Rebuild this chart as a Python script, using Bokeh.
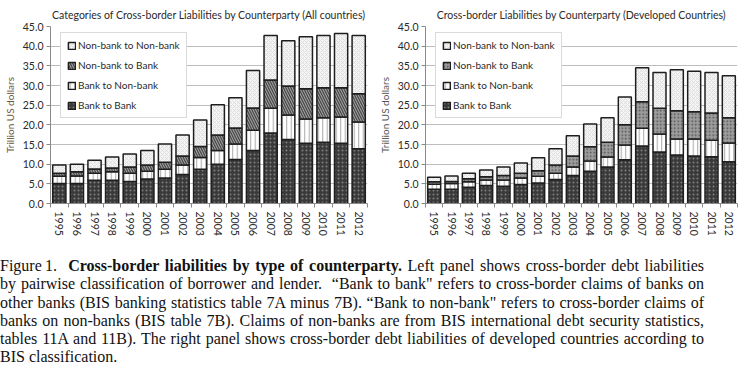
import math
import numpy as np
from bokeh.plotting import figure
from bokeh.models import (FixedTicker, Legend, LegendItem, Div, Range1d,
                          NumeralTickFormatter)
from bokeh.layouts import column, row
from bokeh.embed import file_html
from bokeh.resources import INLINE

years = [str(y) for y in range(1995, 2013)]
series_names = ["Bank to Bank", "Bank to Non-bank", "Non-bank to Bank", "Non-bank to Non-bank"]

# Left panel: All countries (trillion US dollars, per category)
all_b2b = [5.1, 5.1, 5.9, 5.9, 5.6, 6.2, 6.5, 7.4, 8.7, 10.0, 11.2, 13.5, 17.9, 16.3, 15.3, 15.6, 15.3, 13.9]
all_b2nb = [1.8, 1.9, 1.8, 2.2, 2.1, 2.0, 2.2, 2.4, 3.0, 3.5, 3.9, 5.1, 6.3, 6.2, 6.2, 6.2, 6.7, 6.8]
all_nb2b = [0.8, 1.1, 1.1, 0.9, 1.6, 1.6, 1.8, 2.3, 2.8, 3.9, 4.1, 5.7, 7.2, 7.4, 7.7, 7.6, 7.4, 7.2]
all_nb2nb = [2.1, 1.9, 2.2, 2.8, 3.3, 3.7, 4.6, 5.3, 6.7, 7.7, 7.7, 9.5, 11.3, 11.5, 13.2, 13.3, 13.8, 14.8]

# Right panel: Developed countries
dev_b2b = [3.6, 3.6, 4.1, 4.6, 4.4, 4.8, 5.2, 6.1, 7.1, 8.2, 9.3, 11.1, 14.6, 13.1, 12.3, 12.1, 11.9, 10.6]
dev_b2nb = [1.3, 1.5, 1.4, 1.4, 1.6, 1.7, 1.7, 1.6, 2.2, 2.6, 2.5, 3.8, 4.5, 4.6, 4.1, 4.3, 4.2, 4.8]
dev_nb2b = [0.6, 0.5, 0.8, 0.8, 1.1, 1.2, 1.4, 2.1, 2.8, 3.6, 3.8, 5.1, 6.8, 6.5, 7.2, 6.9, 6.9, 6.4]
dev_nb2nb = [1.2, 1.4, 1.4, 1.7, 2.2, 2.6, 3.3, 4.1, 5.1, 5.8, 6.2, 7.1, 8.6, 9.1, 10.4, 10.3, 10.3, 10.7]

y_ticks = [0, 5, 10, 15, 20, 25, 30, 35, 40, 45]

caption_lines = [
    'Figure\u20091.&nbsp; <b>Cross-border liabilities by type of counterparty.</b> Left panel shows cross-border debt liabilities',
    'by pairwise classification of borrower and lender.&nbsp; \u201cBank to bank" refers to cross-border claims of banks on',
    'other banks (BIS banking statistics table 7A minus 7B). \u201cBank to non-bank" refers to cross-border claims of',
    'banks on non-banks (BIS table 7B). Claims of non-banks are from BIS international debt security statistics,',
    'tables 11A and 11B). The right panel shows cross-border debt liabilities of developed countries according to',
    'BIS classification.',
]

FONT = "Lato"
TXT = "#2a2a2a"

def make_panel(title, vals, nb2b_style, ylabel_color, frame_w, border_left, border_right):
    n = len(years)
    centers = list(np.arange(n) + 0.5)
    bounds = list(np.arange(n + 1).astype(float))
    p = figure(frame_width=frame_w, frame_height=177, output_backend="svg",
               toolbar_location=None, x_range=Range1d(0, n), y_range=Range1d(0, 45),
               min_border_left=border_left, min_border_right=border_right,
               min_border_top=0, min_border_bottom=0)
    p.title.text = title
    p.title.align = "center"
    p.title.text_font = FONT
    p.title.text_font_size = "10.5px"
    p.title.text_font_style = "normal"
    p.title.text_color = TXT
    p.title.standoff = 12
    p.title.offset = 0
    p.outline_line_color = None
    p.background_fill_color = "white"
    p.border_fill_color = "white"

    styles = [
        dict(fill_color="#3a3a3a", hatch_pattern="dot", hatch_color="#808080", hatch_scale=4, hatch_weight=1),
        dict(fill_color="white", hatch_pattern="vertical_line", hatch_color="#a8a8a8", hatch_scale=4.5, hatch_weight=1),
        nb2b_style,
        dict(fill_color="#f5f5f5", hatch_pattern="diagonal_cross", hatch_color="#d6d6d6", hatch_scale=4, hatch_weight=0.7),
    ]
    bottom = np.zeros(n)
    renderers = []
    for v, st in zip(vals, styles):
        top = bottom + np.array(v)
        r = p.vbar(x=centers, width=0.75, bottom=list(bottom), top=list(top),
                   line_color="#1e1e1e", line_width=1.5, **st)
        renderers.append(r)
        bottom = top

    p.xgrid.grid_line_color = None
    p.ygrid.grid_line_color = "#bdbdbd"
    p.ygrid.grid_line_width = 1
    p.ygrid.ticker = FixedTicker(ticks=y_ticks)

    p.yaxis.ticker = FixedTicker(ticks=y_ticks)
    p.yaxis.formatter = NumeralTickFormatter(format="0.0")
    p.yaxis.axis_label = "Trillion US dollars"
    p.yaxis.axis_label_text_font = FONT
    p.yaxis.axis_label_text_font_size = "10px"
    p.yaxis.axis_label_text_font_style = "normal"
    p.yaxis.axis_label_text_color = ylabel_color
    p.yaxis.axis_label_standoff = 4
    p.yaxis.major_label_text_font = FONT
    p.yaxis.major_label_text_font_size = "10.5px"
    p.yaxis.major_label_text_color = TXT
    p.yaxis.major_label_standoff = 3
    p.yaxis.major_tick_out = 4
    p.yaxis.major_tick_in = 0
    p.yaxis.minor_tick_line_color = None
    p.yaxis.axis_line_color = "#8a8a8a"
    p.yaxis.major_tick_line_color = "#8a8a8a"

    p.xaxis.ticker = FixedTicker(ticks=centers, minor_ticks=bounds)
    p.xaxis.major_label_overrides = {c: y for c, y in zip(centers, years)}
    p.xaxis.major_label_orientation = -math.pi / 2
    p.xaxis.major_label_text_font = FONT
    p.xaxis.major_label_text_font_size = "10.5px"
    p.xaxis.major_label_text_color = TXT
    p.xaxis.major_label_standoff = 4
    p.xaxis.major_tick_out = 0
    p.xaxis.major_tick_in = 0
    p.xaxis.minor_tick_out = 4
    p.xaxis.minor_tick_in = 0
    p.xaxis.minor_tick_line_color = "#8a8a8a"
    p.xaxis.axis_line_color = "#8a8a8a"

    items = [LegendItem(label=name, renderers=[r]) for name, r in zip(series_names, renderers)]
    legend = Legend(items=items[::-1], location=(10, 85), orientation="vertical")
    legend.border_line_color = "#b5b5b5"
    legend.border_line_width = 1
    legend.background_fill_color = "white"
    legend.background_fill_alpha = 1
    legend.label_text_font = FONT
    legend.label_text_font_size = "10px"
    legend.label_text_color = TXT
    legend.glyph_width = 9
    legend.glyph_height = 9
    legend.label_height = 10
    legend.label_width = 98
    legend.label_standoff = 2
    legend.spacing = 8
    legend.padding = 6
    legend.margin = 0
    p.add_layout(legend)
    return p

left_nb2b = dict(fill_color="#a4a4a4", hatch_pattern="left_diagonal_line", hatch_color="#4a4a4a", hatch_scale=5, hatch_weight=1.3)
right_nb2b = dict(fill_color="#9c9c9c", hatch_pattern="dot", hatch_color="#4f4f4f", hatch_scale=3.5, hatch_weight=1)

p1 = make_panel("Categories of Cross-border Liabilities by Counterparty (All countries)",
                [all_b2b, all_b2nb, all_nb2b, all_nb2nb], left_nb2b, "#6a5638", 317, 35, 8)
p2 = make_panel("Cross-border Liabilities by Counterparty (Developed Countries)",
                [dev_b2b, dev_b2nb, dev_nb2b, dev_nb2nb], right_nb2b, "#555555", 312, 35, 2)

line_style = ("font-family:'Liberation Serif',serif;font-size:16px;line-height:18.3px;"
              "color:#111;white-space:nowrap;width:704px;display:block;")
html = ""
for i, ln in enumerate(caption_lines):
    last = i == len(caption_lines) - 1
    align = "text-align:left;" if last else "text-align:justify;text-align-last:justify;"
    html += f"<div style=\"{line_style}{align}\">{ln}</div>"
caption = Div(text=html, width=704, height=112, margin=(19, 0, 0, 0))

layout = column(row(p1, p2), caption)

open("out.html", "w").write(file_html(layout, INLINE))
